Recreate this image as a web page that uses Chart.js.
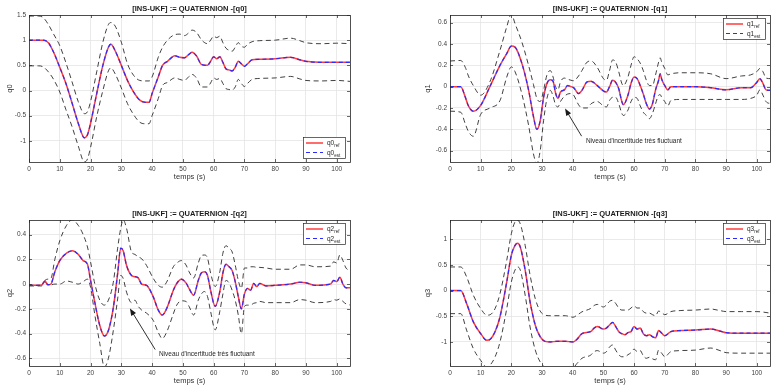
<!DOCTYPE html>
<html>
<head>
<meta charset="utf-8">
<script src="https://cdn.jsdelivr.net/npm/chart.js@4"></script>
<style>
html, body { margin: 0; padding: 0; background: #fff; }
#wrap { position: relative; width: 777px; height: 388px; overflow: hidden; }
canvas { position: absolute; }
</style>
</head>
<body>
<div id="wrap">
  <canvas id="c0" width="388" height="193" style="left:0;top:0"></canvas>
  <canvas id="c1" width="389" height="193" style="left:388px;top:0"></canvas>
  <canvas id="c2" width="388" height="195" style="left:0;top:193px"></canvas>
  <canvas id="c3" width="389" height="195" style="left:388px;top:193px"></canvas>
</div>
<script>
// ---- q0 ----
const t0 = [0,3,4.6,6.3,8,10,12,14,16,18, 19,20,22,24,25.8,26.6,28,30,32,34, 36,37.7,39,40,42,43.4,45,47.4,49,50.5,
  52,53,54.5,56,58,59,60,61,62,63, 64,65,66,67,68,69,70,71,72.5,75, 80,85,88,90,95,100,104.5];
const q0Ref = [1,1,1,0.95,0.76,0.46,0.14,-0.25,-0.65,-0.94, -0.88,-0.65,-0.06,0.5,0.86,0.92,0.79,0.5,0.2,-0.03,
  -0.19,-0.235,-0.235,-0.06,0.27,0.5,0.58,0.69,0.66,0.65, 0.72,0.76,0.68,0.52,0.5,0.58,0.67,0.63,0.67,0.56,
  0.43,0.41,0.39,0.46,0.58,0.53,0.48,0.53,0.61,0.62, 0.63,0.66,0.61,0.58,0.56,0.56,0.56];
const q0Est = q0Ref; // estimation superposee a la reference
const q0Up = [1.48,1.48,1.45,1.31,1.12,0.89,0.55,0.17,-0.22,-0.46, -0.42,-0.22,0.37,0.96,1.31,1.35,1.28,0.96,0.53,0.3,
  0.2,0.19,0.19,0.27,0.66,0.86,1.0,1.11,1.12,1.09, 1.15,1.2,1.15,1.01,0.93,1.0,1.08,1.05,1.08,0.95,
  0.84,0.8,0.78,0.86,0.95,0.88,0.86,0.92,0.97,0.99, 1.0,1.04,0.99,0.95,0.93,0.94,0.93];
const q0Low = [0.49,0.49,0.47,0.37,0.22,-0.03,-0.38,-0.72,-1.1,-1.42, -1.36,-1.13,-0.52,0.0,0.39,0.45,0.33,0.05,-0.26,-0.48,
  -0.63,-0.66,-0.66,-0.5,-0.16,0.1,0.16,0.25,0.22,0.2, 0.28,0.32,0.24,0.07,0.07,0.15,0.25,0.22,0.24,0.14,
  0.04,0.02,0.01,0.07,0.22,0.14,0.08,0.14,0.22,0.24, 0.25,0.28,0.23,0.2,0.19,0.2,0.18];

// ---- q1 ----
const t1 = [0,3.5,5,6,7.6,10,13,16.3,18.5,20, 21.2,23.4,25.6,27.2,28.3,29.4,30.5,31.6,32.7,33.6,
  34.4,35.2,36,37.3,38.3,39.4,40.3,41.9,43,44.7, 46,48,50,51,52,53,54,55,56,56.5,
  58,59,60,61,62,63,64,65,66,67, 68,68.5,69,70,71,72,75,80,85,90, 95,98,100,101,102,103,104.5];
const q1Ref = [0,0,-0.1,-0.18,-0.23,-0.175,0,0.2,0.31,0.38, 0.37,0.22,-0.03,-0.28,-0.4,-0.32,-0.1,0.03,0.065,0.05,
  -0.06,-0.11,-0.05,-0.03,0.01,0,-0.01,-0.065,-0.035,0.045, 0.05,0.01,-0.04,-0.05,0,0.06,0.04,-0.02,-0.14,-0.17,
  -0.08,0.03,0.09,0.075,0.01,-0.07,-0.16,-0.21,-0.16,-0.03, 0.06,0.12,0.07,0.01,-0.03,0,0,0,-0.01,-0.03,
  -0.01,-0.01,0.04,0.075,0.03,-0.03,-0.035];
const q1Est = q1Ref;
const q1Up = [0.24,0.245,0.18,0.1,0.01,-0.08,0.045,0.34,0.56,0.68, 0.59,0.42,0.2,0.02,-0.11,-0.14,-0.035,0.11,0.15,0.09,
  0.0,-0.03,0.045,0.08,0.07,0.06,0.055,0.1,0.15,0.23, 0.24,0.18,0.075,0.06,0.15,0.25,0.23,0.14,0.03,0.01,
  0.09,0.2,0.28,0.26,0.22,0.15,0.06,0.01,0.01,0.11, 0.23,0.27,0.23,0.17,0.11,0.12,0.13,0.13,0.12,0.075,
  0.1,0.11,0.14,0.17,0.14,0.08,0.075];
const q1Low = [-0.23,-0.24,-0.35,-0.42,-0.465,-0.26,-0.2,-0.13,0.09,0.185, 0.14,-0.065,-0.36,-0.63,-0.72,-0.6,-0.32,-0.11,-0.035,-0.09,
  -0.17,-0.19,-0.14,-0.09,-0.07,-0.065,-0.08,-0.17,-0.2,-0.2, -0.16,-0.14,-0.18,-0.19,-0.13,-0.1,-0.1,-0.16,-0.25,-0.27,
  -0.22,-0.14,-0.1,-0.11,-0.18,-0.24,-0.27,-0.3,-0.25,-0.16, -0.08,-0.075,-0.1,-0.14,-0.18,-0.13,-0.12,-0.12,-0.12,-0.12,
  -0.12,-0.11,-0.08,-0.03,-0.08,-0.14,-0.16];

// ---- q2 ----
const t2 = [0,4,5.2,6.1,7.1,8.4,10,12.2,14.1,16, 17.6,19,20,21.4,23,24.5,25.8,27.4,28.8,29.8,
  30.6,31.7,33.3,34.4,35.5,36.6,38.2,40.4,42,43.3, 44.7,46.9,48,49.5,51,52,53.5,55,56,57,
  58,59,60.5,62,63,64,65,66,67,68, 69,70,71,72,73,74,75,77,80,85, 88,90,93,98,99,100,101,102,103,104.5];
const q2Ref = [-0.01,-0.01,0.025,-0.005,0,0.1,0.19,0.25,0.27,0.24, 0.19,0.16,0.03,-0.15,-0.335,-0.42,-0.375,-0.19,0.085,0.29,
  0.27,0.15,0.07,0.06,0.05,0.0,-0.01,-0.105,-0.21,-0.25, -0.2,-0.05,0.005,0.04,0.01,-0.035,-0.09,0.03,0.09,0.1,
  0.07,-0.05,-0.18,-0.06,0.09,0.16,0.14,0.11,0.02,-0.1, -0.2,-0.08,-0.035,-0.05,0.005,-0.02,0.005,-0.015,-0.01,0,
  0.015,0.01,-0.01,0,0.03,0.02,0.055,0,-0.03,-0.03];
const q2Est = q2Ref;
const q2Up = [-0.01,-0.01,0.03,0.04,0.045,0.2,0.35,0.475,0.52,0.475, 0.4,0.3,0.18,0.0,-0.13,-0.17,-0.13,0.015,0.29,0.45,
  0.52,0.45,0.26,0.24,0.22,0.205,0.15,0.045,-0.01,-0.025, 0.015,0.14,0.17,0.19,0.155,0.1,0.05,0.17,0.23,0.235,
  0.21,0.09,-0.02,0.1,0.25,0.31,0.29,0.26,0.155,0.03, -0.035,0.13,0.13,0.14,0.14,0.135,0.135,0.13,0.12,0.12,
  0.155,0.155,0.14,0.145,0.18,0.17,0.235,0.19,0.13,0.11];
const q2Low = [-0.015,-0.015,0.015,-0.005,-0.005,0,0,0.025,0.015,0, 0.02,0.04,-0.025,-0.25,-0.48,-0.67,-0.6,-0.375,-0.12,0.07,
  0.045,-0.065,-0.15,-0.13,-0.18,-0.21,-0.235,-0.295,-0.39,-0.44, -0.39,-0.24,-0.17,-0.135,-0.14,-0.18,-0.25,-0.13,-0.08,-0.06,
  -0.1,-0.22,-0.37,-0.22,-0.08,0.03,0.01,-0.05,-0.13,-0.25, -0.4,-0.18,-0.17,-0.17,-0.155,-0.15,-0.14,-0.15,-0.15,-0.15,
  -0.125,-0.13,-0.15,-0.14,-0.125,-0.13,-0.12,-0.14,-0.16,-0.17];

// ---- q3 ----
const t3 = [0,3.5,5.4,7.6,10,12,13.1,14.7,16.3,18.5, 20,21.2,22,22.9,24.5,26.1,27.8,29.4,31,32.7,
  34.9,37.6,40.1,41.4,43,45.8,47,48,50,51, 52,53,54,55,56,57,58,59,60,61,
  62,63,64,65,66,67,68,69,70,72, 75,80,85,88,90,95,100,104.5];
const q3Ref = [0,0,-0.25,-0.61,-0.84,-0.97,-0.95,-0.8,-0.51,0.17, 0.69,0.88,0.92,0.85,0.4,-0.22,-0.675,-0.9,-0.99,-1.0,
  -0.99,-0.99,-1.0,-0.95,-0.84,-0.8,-0.73,-0.7,-0.75,-0.73, -0.67,-0.62,-0.7,-0.8,-0.84,-0.86,-0.82,-0.8,-0.7,-0.75,
  -0.73,-0.84,-0.88,-0.86,-0.9,-0.92,-0.78,-0.83,-0.88,-0.8, -0.78,-0.77,-0.75,-0.79,-0.82,-0.83,-0.83,-0.83];
const q3Est = q3Ref;
const q3Up = [0.46,0.46,0.27,-0.09,-0.35,-0.48,-0.47,-0.35,-0.06,0.59, 1.11,1.34,1.37,1.3,0.88,0.3,-0.16,-0.4,-0.48,-0.49,
  -0.49,-0.49,-0.52,-0.48,-0.415,-0.35,-0.29,-0.27,-0.32,-0.28, -0.21,-0.19,-0.25,-0.34,-0.38,-0.38,-0.38,-0.34,-0.3,-0.34,
  -0.34,-0.41,-0.44,-0.44,-0.47,-0.49,-0.4,-0.43,-0.47,-0.41, -0.39,-0.38,-0.36,-0.39,-0.41,-0.41,-0.41,-0.44];
const q3Low = [-0.45,-0.45,-0.77,-1.13,-1.36,-1.49,-1.45,-1.29,-1.0,-0.35, 0.17,0.4,0.46,0.4,-0.09,-0.71,-1.16,-1.39,-1.49,-1.5,
  -1.5,-1.49,-1.5,-1.42,-1.32,-1.26,-1.19,-1.17,-1.22,-1.19, -1.1,-1.06,-1.16,-1.25,-1.29,-1.29,-1.25,-1.21,-1.14,-1.19,
  -1.17,-1.27,-1.32,-1.3,-1.33,-1.35,-1.16,-1.22,-1.29,-1.19, -1.17,-1.16,-1.12,-1.17,-1.21,-1.22,-1.22,-1.22];

// limites des axes et annotations (temps, valeur)
const yLim0 = [-1.42, 1.5], yLim1 = [-0.706, 0.671], yLim2 = [-0.662, 0.518], yLim3 = [-1.47, 1.375];
const noteText = "Niveau d'incertitude très fluctuant";
const note1 = { head: [37.5, -0.206], tail: [42.9, -0.464], text: [44.3, -0.508] };
const note2 = { head: [32.8, -0.197], tail: [41.0, -0.529], text: [42.2, -0.567] };

const FONT = "'Liberation Sans', Arial, Helvetica, sans-serif";
Chart.defaults.font.family = FONT;

function pts(t, v) { return t.map((x, i) => ({ x: x, y: v[i] })); }

// boite, graduations interieures, legende et annotation facon MATLAB
const matlabPlugin = {
    id: 'matlab',
    afterDatasetsDraw(chart, args, o) {
        const ctx = chart.ctx, a = chart.chartArea;
        const xs = chart.scales.x, ys = chart.scales.y;
        ctx.save();
        // graduations
        ctx.strokeStyle = '#262626';
        ctx.lineWidth = 0.7;
        ctx.beginPath();
        xs.ticks.forEach(tk => {
            const px = Math.round(xs.getPixelForValue(tk.value)) + 0.5;
            ctx.moveTo(px, a.bottom); ctx.lineTo(px, a.bottom - 3);
            ctx.moveTo(px, a.top); ctx.lineTo(px, a.top + 3);
        });
        ys.ticks.forEach(tk => {
            const py = Math.round(ys.getPixelForValue(tk.value)) + 0.5;
            ctx.moveTo(a.left, py); ctx.lineTo(a.left + 3, py);
            ctx.moveTo(a.right, py); ctx.lineTo(a.right - 3, py);
        });
        ctx.stroke();
        ctx.lineWidth = 0.8;
        ctx.strokeRect(Math.round(a.left) + 0.5, Math.round(a.top) + 0.5, Math.round(a.right - a.left), Math.round(a.bottom - a.top));

        // annotation
        if (o.note) {
            const hx = xs.getPixelForValue(o.note.head[0]), hy = ys.getPixelForValue(o.note.head[1]);
            const tx = xs.getPixelForValue(o.note.tail[0]), ty = ys.getPixelForValue(o.note.tail[1]);
            const ang = Math.atan2(hy - ty, hx - tx);
            ctx.strokeStyle = '#1a1a1a';
            ctx.fillStyle = '#1a1a1a';
            ctx.lineWidth = 0.9;
            ctx.beginPath();
            ctx.moveTo(tx, ty);
            ctx.lineTo(hx - 5 * Math.cos(ang), hy - 5 * Math.sin(ang));
            ctx.stroke();
            ctx.beginPath();
            ctx.moveTo(hx, hy);
            ctx.lineTo(hx - 7 * Math.cos(ang) + 2.8 * Math.sin(ang), hy - 7 * Math.sin(ang) - 2.8 * Math.cos(ang));
            ctx.lineTo(hx - 7 * Math.cos(ang) - 2.8 * Math.sin(ang), hy - 7 * Math.sin(ang) + 2.8 * Math.cos(ang));
            ctx.closePath();
            ctx.fill();
            ctx.font = '6.5px ' + FONT;
            ctx.textAlign = 'left';
            ctx.textBaseline = 'middle';
            ctx.fillStyle = '#262626';
            ctx.fillText(noteText, xs.getPixelForValue(o.note.text[0]), ys.getPixelForValue(o.note.text[1]));
        }

        // legende
        const w = 42, h = 21;
        const lx = Math.round(a.right - 5 - w);
        const ly = o.legendPos === 'se' ? Math.round(a.bottom - 4 - h) : Math.round(a.top + 3);
        ctx.fillStyle = '#fff';
        ctx.fillRect(lx, ly, w, h);
        ctx.strokeStyle = '#262626';
        ctx.lineWidth = 0.7;
        ctx.strokeRect(lx + 0.5, ly + 0.5, w, h);
        const rows = [
            { sub: 'ref', color: '#ff3b3b', dash: [], lw: 1.5 },
            { sub: 'est', color: '#2b2bff', dash: [4, 3], lw: 1.2 }
        ];
        rows.forEach((r, i) => {
            const yy = ly + 6 + i * 9.5;
            ctx.strokeStyle = r.color;
            ctx.lineWidth = r.lw;
            ctx.setLineDash(r.dash);
            ctx.beginPath();
            ctx.moveTo(lx + 3, yy); ctx.lineTo(lx + 20, yy);
            ctx.stroke();
            ctx.setLineDash([]);
            ctx.fillStyle = '#262626';
            ctx.textAlign = 'left';
            ctx.textBaseline = 'alphabetic';
            ctx.font = '6.5px ' + FONT;
            ctx.fillText(o.name, lx + 24, yy + 2);
            const nw = ctx.measureText(o.name).width;
            ctx.font = '4.5px ' + FONT;
            ctx.fillText(r.sub, lx + 24 + nw, yy + 4);
        });
        ctx.restore();
    }
};

// etiquettes sans zeros inutiles (1 au lieu de 1.0)
function fmt(v) { return String(Math.round(v * 100) / 100); }

function makeChart(id, c) {
    return new Chart(document.getElementById(id), {
        type: 'line',
        data: {
            datasets: [
                { label: c.name + ' est', data: pts(c.t, c.est), borderColor: '#2b2bff', borderWidth: 1.2, borderDash: [4, 3] },
                { label: c.name + ' ref', data: pts(c.t, c.ref), borderColor: '#ff3b3b', borderWidth: 1.5 },
                { label: 'borne sup', data: pts(c.t, c.up), borderColor: '#2b2b2b', borderWidth: 0.9, borderDash: [5, 3.5] },
                { label: 'borne inf', data: pts(c.t, c.low), borderColor: '#2b2b2b', borderWidth: 0.9, borderDash: [5, 3.5] }
            ]
        },
        options: {
            responsive: false,
            animation: false,
            events: [],
            elements: {
                point: { radius: 0 },
                line: { cubicInterpolationMode: 'monotone', fill: false }
            },
            layout: { padding: { left: 0, top: 0, right: c.padR, bottom: 0 } },
            plugins: {
                legend: { display: false },
                tooltip: { enabled: false },
                title: {
                    display: true,
                    text: '[INS-UKF] := QUATERNION -[' + c.name + ']',
                    fullSize: false,
                    color: '#1a1a1a',
                    font: { size: 7.5, weight: 'bold', lineHeight: 1.2 },
                    padding: { top: c.titleTop, bottom: 2 }
                },
                matlab: { name: c.name, legendPos: c.legendPos, note: c.note }
            },
            scales: {
                x: {
                    type: 'linear', min: 0, max: 104.3,
                    ticks: { stepSize: 10, includeBounds: false, autoSkip: false, maxRotation: 0,
                        padding: 3, color: '#404040', font: { size: 6.5 }, callback: fmt },
                    grid: { color: '#e4e4e4', lineWidth: 0.8, drawTicks: false },
                    border: { display: false },
                    title: { display: true, text: 'temps (s)', color: '#333', font: { size: 7.5 },
                        padding: { top: 0, bottom: c.xTitlePad } },
                    afterFit: s => { s.height = c.xH; }
                },
                y: {
                    type: 'linear', min: c.ylim[0], max: c.ylim[1],
                    ticks: { stepSize: c.yStep, includeBounds: false, autoSkip: false,
                        padding: 3, color: '#404040', font: { size: 6.5 }, callback: fmt },
                    grid: { color: '#e4e4e4', lineWidth: 0.8, drawTicks: false },
                    border: { display: false },
                    title: { display: true, text: c.name, color: '#333', font: { size: 7.5 },
                        padding: { top: c.yTitlePad, bottom: 0 } },
                    afterFit: s => { s.width = c.yW; }
                }
            }
        },
        plugins: [matlabPlugin]
    });
}

makeChart('c0', { name: 'q0', t: t0, ref: q0Ref, est: q0Est, up: q0Up, low: q0Low, ylim: yLim0, yStep: 0.5,
    padR: 38, yW: 29, xH: 31, titleTop: 4, xTitlePad: 11.5, yTitlePad: 5, legendPos: 'se' });
makeChart('c1', { name: 'q1', t: t1, ref: q1Ref, est: q1Est, up: q1Up, low: q1Low, ylim: yLim1, yStep: 0.2,
    padR: 7, yW: 62, xH: 31, titleTop: 4, xTitlePad: 11.5, yTitlePad: 35, legendPos: 'ne', note: note1 });
makeChart('c2', { name: 'q2', t: t2, ref: q2Ref, est: q2Est, up: q2Up, low: q2Low, ylim: yLim2, yStep: 0.2,
    padR: 38, yW: 29, xH: 22, titleTop: 16, xTitlePad: 2.5, yTitlePad: 5, legendPos: 'ne', note: note2 });
makeChart('c3', { name: 'q3', t: t3, ref: q3Ref, est: q3Est, up: q3Up, low: q3Low, ylim: yLim3, yStep: 0.5,
    padR: 7, yW: 62, xH: 22, titleTop: 16, xTitlePad: 2.5, yTitlePad: 35, legendPos: 'ne' });
</script>
</body>
</html>
